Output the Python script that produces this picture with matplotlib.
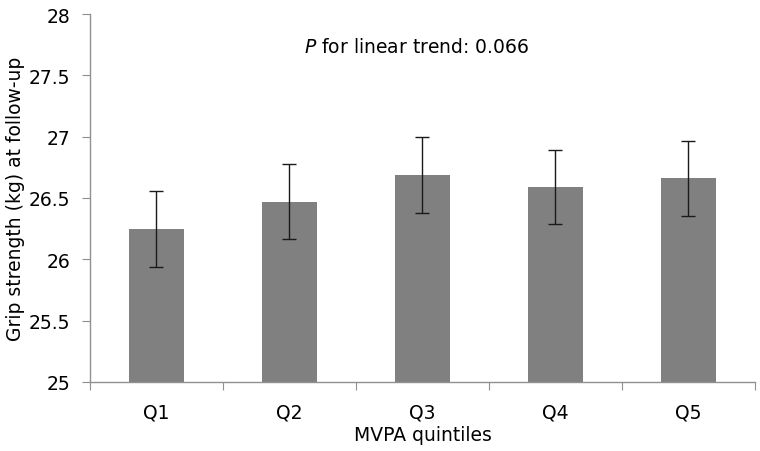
import numpy as np
import matplotlib
matplotlib.use("Agg")
from matplotlib import pyplot as plt

# values
quintiles = ["Q1", "Q2", "Q3", "Q4", "Q5"]
grip_mean = [26.25, 26.47, 26.69, 26.59, 26.66]
grip_err = [0.31, 0.305, 0.31, 0.30, 0.305]

trend_text = " for linear trend: 0.066"

plt.rcParams['font.family'] = ['DejaVu Sans']
fs = 13.5

fig = plt.figure(figsize=(7.6, 4.52), dpi=100)
ax = fig.add_axes([0.1184, 0.1527, 0.875, 0.8141])

x = np.arange(len(quintiles))
ax.bar(x, np.array(grip_mean) - 25, bottom=25, width=0.41, color="#808080", zorder=2)
ax.errorbar(x, grip_mean, yerr=grip_err, fmt="none", ecolor="#1a1a1a",
            elinewidth=1.0, capsize=5, capthick=1.0, zorder=3)

ax.set_xlim(-0.5, len(quintiles) - 0.5)
ax.set_ylim(25, 28)
ax.set_yticks(np.arange(25, 28.01, 0.5))
ax.set_yticklabels(["25", "25.5", "26", "26.5", "27", "27.5", "28"])

# Excel style: ticks between categories, labels centred
ax.set_xticks(np.arange(-0.5, len(quintiles), 1.0))
ax.set_xticklabels([])
ax.set_xticks(x, minor=True)
ax.set_xticklabels(quintiles, minor=True)
ax.tick_params(axis="x", which="minor", length=0, pad=15, labelsize=fs)
ax.tick_params(axis="x", which="major", length=6, color="#909090", direction="out")
ax.tick_params(axis="y", length=6, color="#909090", direction="out", labelsize=fs, pad=8)

for side in ["top", "right"]:
    ax.spines[side].set_visible(False)
for side in ["left", "bottom"]:
    ax.spines[side].set_color("#909090")
    ax.spines[side].set_linewidth(1.0)

ax.set_xlabel("MVPA quintiles", fontsize=fs, labelpad=2)
ax.set_ylabel("Grip strength (kg) at follow-up", fontsize=fs, labelpad=3)

ax.text(0.322, 0.913, "$\\mathit{P}$" + trend_text, transform=ax.transAxes,
        fontsize=fs, ha="left", va="center")

fig.savefig("out.png", dpi=100)
